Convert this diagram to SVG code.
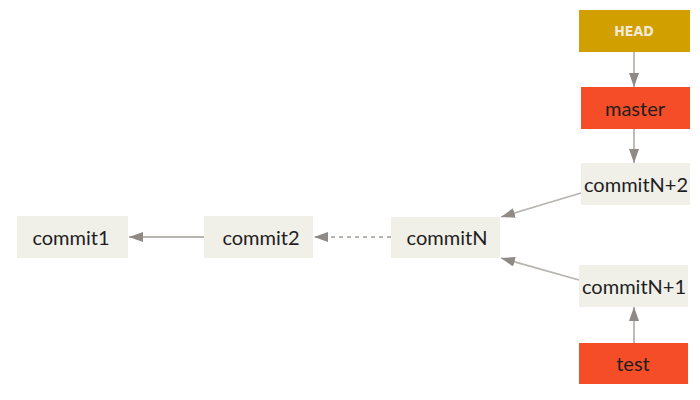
<svg xmlns="http://www.w3.org/2000/svg" width="700" height="400" viewBox="0 0 700 400">
<style>
.c{fill:#f0efe8}
.b{fill:#f44d27}
.h{fill:#d19f00}
text{font-family:Lato,"Noto Sans",sans-serif;font-size:20px;fill:#1e1e1e;text-anchor:middle;dominant-baseline:central}
.ht{font-family:"DejaVu Sans Condensed","DejaVu Sans",sans-serif;font-weight:bold;font-size:14px;fill:#f3ead6}
.l{stroke:#b8b4b0;stroke-width:1.8;fill:none}
.d{stroke-dasharray:4 4}
</style>
<defs>
<marker id="a" viewBox="0 0 14 10" refX="14" refY="5" markerWidth="14" markerHeight="10" markerUnits="userSpaceOnUse" orient="auto">
<path d="M0,0 L14,5 L0,10 Z" fill="#8f8a85"/>
</marker>
</defs>
<g id="connectors">
<line class="l" x1="204" y1="237" x2="129" y2="237" marker-end="url(#a)"/>
<line class="l d" x1="391" y1="237" x2="314" y2="237" marker-end="url(#a)"/>
<line class="l" x1="581" y1="193" x2="501" y2="217" marker-end="url(#a)"/>
<line class="l" x1="579" y1="280" x2="501" y2="258" marker-end="url(#a)"/>
<line class="l" x1="634" y1="52" x2="634" y2="87" marker-end="url(#a)"/>
<line class="l" x1="634" y1="129" x2="634" y2="163" marker-end="url(#a)"/>
<line class="l" x1="634" y1="343" x2="634" y2="307" marker-end="url(#a)"/>
</g>
<g id="commit1"><rect class="c" x="17" y="216" width="111" height="42"/><text x="71" y="237">commit1</text></g>
<g id="commit2"><rect class="c" x="204" y="216" width="109" height="42"/><text x="261" y="237">commit2</text></g>
<g id="commitN"><rect class="c" x="391" y="217" width="109" height="41"/><text x="447" y="237">commitN</text></g>
<g id="commitN2"><rect class="c" x="581" y="163" width="109" height="42"/><text x="636" y="184">commitN+2</text></g>
<g id="commitN1"><rect class="c" x="579" y="265" width="109" height="42"/><text x="634" y="286">commitN+1</text></g>
<g id="HEAD"><rect class="h" x="579" y="10" width="111" height="42"/><text class="ht" x="634" y="31">HEAD</text></g>
<g id="master"><rect class="b" x="581" y="87" width="109" height="42"/><text x="635" y="108">master</text></g>
<g id="test"><rect class="b" x="579" y="343" width="109" height="41"/><text x="633" y="363">test</text></g>
</svg>
